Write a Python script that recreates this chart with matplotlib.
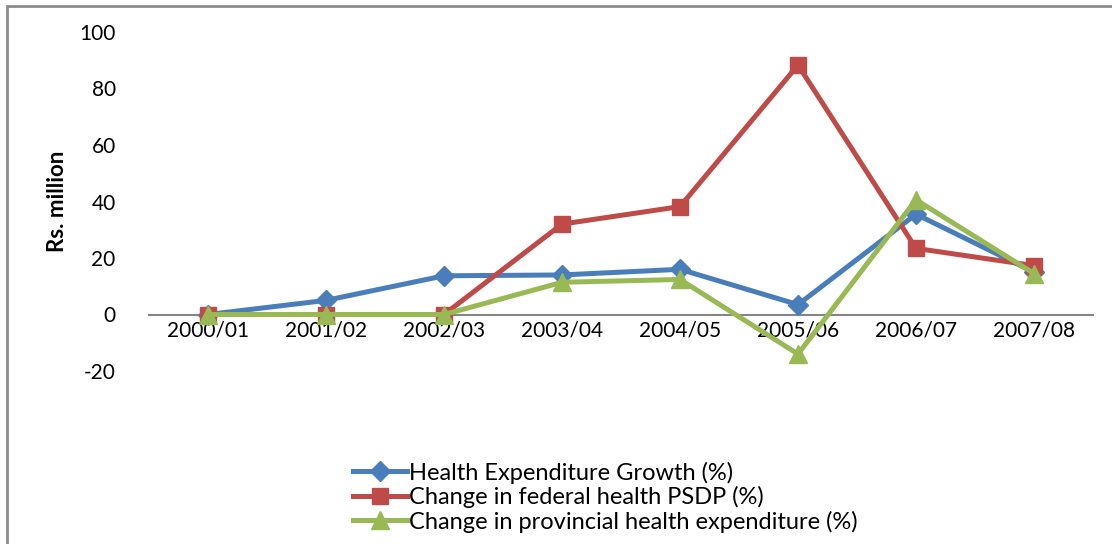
import matplotlib
matplotlib.use('Agg')
import matplotlib.pyplot as plt
from matplotlib.lines import Line2D
from matplotlib.patches import Rectangle
import numpy as np

plt.rcParams['font.family'] = ['Lato', 'DejaVu Sans']
plt.rcParams['axes.unicode_minus'] = False

years = ['2000/01', '2001/02', '2002/03', '2003/04', '2004/05', '2005/06', '2006/07', '2007/08']
health_growth = [0, 5, 13.7, 14, 16, 3.5, 35.5, 15]
federal_psdp = [0, 0, 0, 32, 38.2, 88.3, 23.4, 17.3]
provincial_exp = [0, 0, 0, 11.4, 12.4, -14, 40.6, 14.5]
series_names = ['Health Expenditure Growth (%)',
                'Change in federal health PSDP (%)',
                'Change in provincial health expenditure (%)']

blue = '#4A7EBB'
red = '#BE4B48'
green = '#98B954'

fig = plt.figure(figsize=(11.12, 5.44), dpi=100)
# outer chart frame (Excel style), only left and top edges show
fig.patches.append(Rectangle((7 / 1112, -0.1), 1.2, 1.1 - 5 / 544 - 0.002,
                             transform=fig.transFigure, fill=False,
                             edgecolor='#8c8c8c', linewidth=2))

ax = fig.add_axes([149 / 1112, 1 - 371 / 544, (1093 - 149) / 1112, (371 - 32) / 544])
x = np.arange(len(years))

ax.plot(x, health_growth, color=blue, lw=3.6, marker='D', ms=10, zorder=3)
ax.plot(x, federal_psdp, color=red, lw=3.6, marker='s', ms=12, zorder=4)
ax.plot(x, provincial_exp, color=green, lw=3.6, marker='^', ms=13, zorder=5)

for s in ['top', 'right', 'left']:
    ax.spines[s].set_visible(False)
ax.spines['bottom'].set_position(('data', 0))
ax.spines['bottom'].set_color('#868686')
ax.spines['bottom'].set_linewidth(1.5)

ax.set_xlim(-0.5, len(years) - 0.5)
ax.set_ylim(-20, 100)
ax.set_yticks(np.arange(-20, 101, 20))
ax.set_xticks(x)
ax.set_xticklabels(years)
ax.tick_params(axis='y', length=0, labelsize=15, pad=24)
ax.tick_params(axis='x', length=0, labelsize=15, pad=4)

ax.set_ylabel('Rs. million', fontsize=16, fontweight='bold')
ax.yaxis.set_label_coords(-0.086, 0.5)

handles = [
    Line2D([], [], color=blue, lw=3.6, marker='D', ms=10),
    Line2D([], [], color=red, lw=3.6, marker='s', ms=12),
    Line2D([], [], color=green, lw=3.6, marker='^', ms=13),
]
fig.legend(handles, series_names, loc='center', bbox_to_anchor=(605 / 1112, 1 - 497 / 544),
           frameon=False, fontsize=17, handlelength=2.3, handletextpad=0.08,
           labelspacing=0.1, borderaxespad=0)

fig.savefig('out.png', dpi=100)
